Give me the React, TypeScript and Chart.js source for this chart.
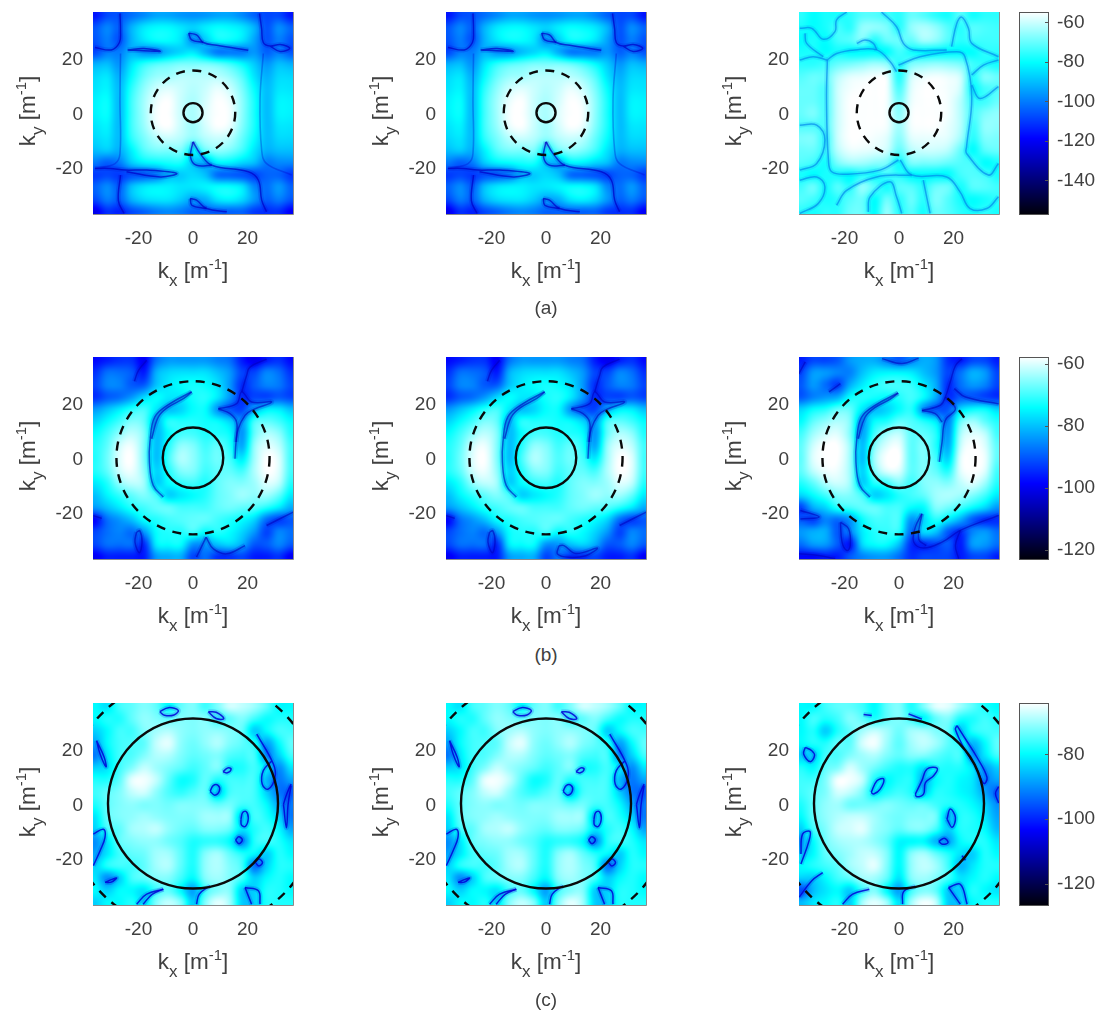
import React, { useEffect, useRef } from "react";
import { Chart, registerables } from "chart.js";

Chart.register(...registerables);

const FONT = "'Liberation Sans', Arial, sans-serif";
const INK = "#404040";

const kTicks = [-20, 0, 20];
const kSamples = [-36, -31.5, -27, -22.5, -18, -13.5, -9, -4.5, 0, 4.5, 9, 13.5, 18, 22.5, 27, 31.5, 36];
const kRowsTopDown = [36, 31.5, 27, 22.5, 18, 13.5, 9, 4.5, 0, -4.5, -9, -13.5, -18, -22.5, -27, -31.5, -36];
const patternCentreKy = 0.4;

const captions = ["(a)", "(b)", "(c)"];

const rangeA = [-157, -54.7];
const rangeB = [-122.9, -57.8];
const rangeC = [-126.4, -64.2];
const barTicksA = [-60, -80, -100, -120, -140];
const barTicksB = [-60, -80, -100, -120];
const barTicksC = [-80, -100, -120];

// field strength in dB, rows from ky=+36 to ky=-36, columns from kx=-36 to kx=+36
const gridA12 = [
  [-116,-108,-106,-102,-98,-94,-94,-96,-97,-96,-94,-94,-98,-104,-108,-108,-116],
  [-106,-99,-104,-92,-84,-81,-81,-84,-87,-83,-80,-81,-84,-92,-106,-98,-104],
  [-106,-100,-106,-92,-84,-80,-80,-84,-96,-88,-80,-80,-84,-94,-106,-100,-106],
  [-108,-100,-100,-92,-96,-96,-90,-86,-84,-92,-100,-100,-100,-96,-104,-100,-106],
  [-92,-90,-96,-84,-76,-72,-70,-68,-68,-68,-70,-74,-80,-88,-96,-90,-92],
  [-86,-84,-92,-80,-70,-65,-64,-62,-62,-62,-62,-65,-72,-84,-92,-86,-86],
  [-84,-82,-90,-76,-66,-60,-58,-60,-62,-60,-57,-60,-68,-80,-90,-84,-84],
  [-82,-80,-90,-74,-64,-57,-55,-60,-63,-59,-55,-57,-66,-78,-90,-82,-82],
  [-82,-80,-90,-74,-64,-56,-55,-60,-63,-58,-55,-56,-66,-78,-90,-82,-82],
  [-84,-82,-90,-74,-65,-57,-55,-60,-64,-59,-55,-57,-67,-78,-90,-84,-84],
  [-86,-84,-90,-76,-68,-62,-60,-62,-66,-62,-60,-62,-70,-80,-90,-86,-86],
  [-90,-88,-92,-82,-72,-68,-68,-68,-80,-70,-66,-68,-74,-84,-92,-90,-90],
  [-100,-104,-100,-88,-82,-80,-78,-78,-88,-92,-82,-82,-86,-90,-100,-98,-98],
  [-110,-108,-110,-106,-104,-100,-90,-88,-86,-90,-102,-104,-106,-108,-104,-104,-110],
  [-104,-98,-104,-90,-84,-82,-82,-84,-84,-82,-80,-80,-84,-98,-102,-96,-104],
  [-108,-100,-104,-92,-86,-84,-84,-88,-94,-92,-84,-82,-86,-96,-104,-100,-106],
  [-122,-112,-114,-108,-104,-100,-98,-100,-104,-104,-104,-104,-104,-110,-112,-112,-120],
];

const gridA3 = [
  [-76,-80,-78,-78,-76,-72,-72,-74,-76,-70,-72,-76,-78,-72,-78,-76,-76],
  [-78,-80,-78,-74,-76,-66,-66,-68,-76,-66,-63,-66,-72,-76,-72,-73,-74],
  [-80,-78,-80,-74,-72,-68,-76,-70,-70,-70,-64,-66,-72,-76,-74,-74,-74],
  [-78,-78,-80,-78,-80,-80,-80,-80,-74,-78,-80,-80,-80,-80,-80,-76,-76],
  [-76,-76,-74,-70,-68,-66,-64,-66,-76,-68,-66,-65,-66,-68,-74,-76,-78],
  [-72,-70,-70,-62,-58,-57,-56,-57,-76,-60,-57,-56,-57,-60,-76,-68,-70],
  [-70,-70,-72,-60,-56,-55,-55,-56,-72,-58,-55,-55,-56,-60,-78,-74,-72],
  [-70,-70,-72,-60,-55,-55,-55,-56,-68,-57,-55,-55,-56,-62,-74,-74,-70],
  [-70,-68,-72,-60,-55,-55,-55,-56,-66,-56,-55,-55,-56,-62,-72,-68,-66],
  [-72,-72,-72,-60,-55,-55,-55,-56,-64,-56,-55,-55,-57,-62,-74,-66,-66],
  [-68,-68,-74,-60,-55,-55,-56,-58,-66,-58,-57,-57,-58,-64,-76,-68,-68],
  [-70,-70,-74,-62,-57,-57,-58,-60,-70,-62,-60,-60,-62,-70,-80,-72,-70],
  [-72,-74,-78,-68,-64,-64,-66,-68,-78,-68,-68,-68,-70,-72,-74,-80,-78],
  [-78,-80,-78,-78,-80,-76,-78,-74,-76,-80,-80,-80,-80,-74,-72,-74,-78],
  [-74,-70,-78,-72,-76,-66,-72,-78,-72,-72,-76,-70,-70,-78,-72,-72,-74],
  [-72,-74,-78,-76,-72,-70,-80,-70,-76,-70,-76,-68,-72,-78,-80,-78,-76],
  [-76,-78,-76,-76,-70,-70,-80,-66,-76,-72,-78,-70,-72,-76,-78,-76,-78],
];

const gridB12 = [
  [-98,-96,-94,-94,-99,-88,-84,-84,-84,-84,-86,-88,-96,-100,-96,-94,-98],
  [-94,-88,-88,-90,-96,-82,-78,-77,-77,-77,-80,-84,-92,-92,-86,-88,-94],
  [-92,-86,-86,-90,-90,-80,-76,-74,-73,-74,-77,-84,-94,-90,-86,-87,-92],
  [-94,-90,-88,-84,-78,-74,-76,-76,-73,-72,-76,-84,-94,-92,-92,-90,-92],
  [-84,-80,-76,-72,-70,-76,-80,-78,-74,-74,-84,-90,-92,-82,-76,-76,-80],
  [-78,-74,-70,-66,-68,-80,-72,-72,-72,-73,-74,-78,-84,-70,-68,-70,-74],
  [-74,-70,-65,-62,-66,-80,-74,-70,-70,-72,-72,-74,-84,-68,-63,-65,-72],
  [-72,-68,-61,-59,-66,-80,-72,-65,-66,-70,-68,-72,-82,-65,-60,-62,-70],
  [-72,-67,-60,-58,-66,-80,-70,-63,-65,-69,-67,-70,-76,-64,-58,-60,-70],
  [-72,-68,-61,-59,-65,-78,-72,-66,-66,-70,-68,-68,-70,-63,-58,-60,-70],
  [-76,-72,-65,-62,-64,-78,-74,-71,-70,-72,-68,-66,-66,-64,-60,-62,-72],
  [-80,-75,-71,-68,-66,-70,-78,-76,-74,-72,-68,-66,-64,-65,-64,-68,-76],
  [-84,-80,-76,-72,-70,-68,-68,-70,-70,-70,-68,-67,-68,-69,-72,-76,-82],
  [-98,-88,-84,-80,-74,-72,-70,-69,-68,-68,-70,-72,-74,-78,-88,-92,-90],
  [-92,-88,-86,-88,-84,-74,-72,-72,-70,-74,-72,-74,-78,-84,-92,-86,-88],
  [-92,-88,-88,-88,-94,-76,-74,-74,-84,-84,-80,-78,-82,-90,-90,-86,-90],
  [-100,-96,-96,-96,-96,-84,-82,-82,-92,-88,-94,-94,-92,-96,-96,-94,-100],
];

const gridB3 = [
  [-96,-92,-92,-90,-84,-82,-82,-86,-90,-86,-82,-84,-94,-96,-92,-92,-96],
  [-92,-84,-84,-86,-86,-80,-76,-75,-75,-76,-80,-84,-92,-88,-82,-84,-92],
  [-90,-84,-88,-92,-82,-76,-72,-70,-70,-71,-76,-82,-94,-88,-84,-86,-92],
  [-90,-86,-84,-82,-74,-72,-73,-74,-72,-70,-74,-82,-94,-90,-90,-92,-94],
  [-78,-74,-72,-68,-68,-76,-80,-78,-74,-72,-84,-90,-90,-78,-74,-74,-78],
  [-74,-68,-65,-63,-66,-82,-74,-72,-68,-69,-72,-76,-86,-68,-64,-68,-72],
  [-70,-64,-61,-60,-66,-82,-70,-64,-62,-68,-68,-72,-84,-64,-60,-62,-70],
  [-68,-61,-58,-58,-64,-80,-66,-60,-59,-68,-66,-72,-82,-62,-58,-60,-68],
  [-68,-60,-58,-58,-64,-80,-64,-58,-58,-68,-66,-70,-78,-60,-58,-59,-68],
  [-68,-62,-59,-59,-64,-78,-66,-60,-60,-68,-66,-68,-72,-60,-58,-60,-70],
  [-72,-68,-63,-61,-64,-78,-72,-70,-66,-70,-66,-65,-66,-62,-60,-64,-72],
  [-78,-74,-70,-66,-66,-70,-78,-76,-72,-70,-68,-64,-63,-64,-66,-70,-76],
  [-92,-82,-78,-72,-70,-68,-68,-70,-70,-74,-74,-66,-67,-70,-74,-78,-84],
  [-90,-92,-86,-88,-84,-74,-70,-70,-70,-84,-78,-72,-76,-82,-90,-94,-94],
  [-84,-82,-82,-90,-86,-76,-72,-71,-72,-88,-78,-80,-90,-94,-86,-84,-88],
  [-88,-84,-84,-90,-96,-78,-74,-74,-80,-94,-94,-92,-90,-96,-84,-84,-88],
  [-98,-98,-96,-96,-90,-86,-84,-84,-88,-94,-92,-92,-92,-96,-92,-92,-96],
];

const gridC12 = [
  [-80,-82,-76,-74,-72,-74,-80,-74,-72,-76,-72,-67,-68,-70,-74,-80,-80],
  [-80,-78,-78,-74,-71,-72,-74,-72,-72,-72,-76,-74,-72,-76,-79,-78,-78],
  [-84,-80,-76,-76,-72,-70,-69,-71,-72,-71,-71,-72,-74,-84,-80,-76,-76],
  [-88,-80,-76,-75,-74,-68,-66,-71,-73,-71,-69,-72,-74,-78,-88,-80,-74],
  [-92,-82,-76,-75,-72,-69,-69,-72,-74,-73,-72,-75,-76,-76,-90,-84,-76],
  [-84,-82,-76,-72,-68,-70,-72,-74,-76,-74,-72,-78,-78,-76,-82,-90,-82],
  [-78,-78,-74,-66,-65,-68,-74,-79,-78,-74,-78,-76,-76,-76,-86,-92,-88],
  [-76,-74,-72,-68,-67,-71,-75,-77,-75,-74,-84,-76,-75,-76,-84,-92,-94],
  [-78,-74,-72,-71,-72,-72,-73,-72,-72,-72,-74,-73,-76,-76,-80,-88,-92],
  [-82,-74,-72,-71,-70,-71,-72,-72,-72,-70,-70,-71,-84,-76,-78,-84,-92],
  [-84,-76,-74,-70,-69,-68,-71,-73,-74,-72,-72,-74,-82,-78,-76,-80,-88],
  [-90,-82,-74,-72,-71,-71,-73,-75,-78,-77,-77,-80,-90,-78,-76,-78,-82],
  [-88,-82,-76,-74,-73,-70,-70,-74,-78,-72,-70,-74,-78,-80,-84,-78,-80],
  [-84,-78,-76,-76,-74,-70,-69,-74,-78,-71,-69,-72,-76,-92,-84,-78,-78],
  [-82,-90,-84,-76,-74,-72,-72,-76,-80,-72,-70,-72,-76,-84,-80,-78,-80],
  [-80,-84,-80,-80,-82,-76,-74,-80,-88,-76,-72,-72,-84,-84,-78,-78,-80],
  [-84,-80,-80,-78,-82,-72,-68,-72,-84,-72,-66,-70,-84,-84,-78,-78,-78],
];

const gridC3 = [
  [-80,-80,-76,-74,-74,-76,-80,-74,-72,-78,-72,-66,-66,-70,-74,-78,-80],
  [-80,-76,-78,-76,-72,-74,-78,-74,-72,-76,-80,-74,-72,-78,-78,-76,-78],
  [-80,-78,-84,-78,-74,-70,-68,-70,-73,-70,-70,-72,-74,-84,-78,-76,-76],
  [-80,-78,-78,-74,-74,-67,-65,-70,-74,-70,-68,-70,-74,-78,-86,-80,-74],
  [-84,-84,-76,-75,-72,-70,-69,-72,-74,-72,-72,-74,-76,-76,-88,-82,-76],
  [-78,-80,-74,-72,-67,-70,-73,-76,-78,-78,-82,-78,-78,-78,-82,-88,-84],
  [-76,-76,-72,-65,-65,-68,-78,-80,-78,-78,-86,-80,-78,-80,-82,-90,-88],
  [-76,-74,-72,-67,-68,-72,-80,-78,-76,-78,-84,-78,-78,-80,-82,-88,-94],
  [-78,-74,-71,-70,-73,-73,-73,-72,-73,-74,-74,-76,-78,-78,-80,-84,-90],
  [-80,-74,-71,-69,-68,-68,-70,-72,-73,-72,-72,-73,-86,-78,-78,-82,-88],
  [-84,-76,-72,-68,-67,-66,-70,-72,-74,-72,-72,-76,-84,-78,-78,-80,-86],
  [-88,-80,-73,-70,-69,-69,-71,-74,-80,-80,-80,-86,-88,-80,-78,-78,-82],
  [-84,-80,-74,-72,-70,-68,-68,-72,-80,-72,-70,-74,-78,-82,-84,-78,-80],
  [-80,-78,-76,-74,-70,-68,-66,-72,-80,-71,-68,-70,-76,-86,-82,-78,-78],
  [-84,-84,-80,-76,-74,-70,-70,-74,-82,-72,-70,-72,-76,-82,-80,-78,-80],
  [-96,-86,-82,-80,-84,-76,-72,-80,-88,-76,-72,-74,-84,-84,-78,-80,-82],
  [-86,-82,-80,-78,-84,-70,-66,-70,-82,-70,-65,-68,-84,-84,-80,-78,-78],
];

// null-contours of the field, in (kx, ky)
const contoursA12 = [
  [[-26.8,36.7],[-26.6,30],[-27,26],[-30,23.3],[-36,24.2]],
  [[-24,23.3],[-18,23.8],[-12,22.8],[-18,23],[-24,23.3]],
  [[-1.6,29.4],[1.3,28.8],[3.8,26],[8.7,25],[20.3,23.2]],
  [[-1.6,29.4],[-0.5,27],[3.8,26]],
  [[24.4,36.7],[25.2,31],[25.8,26],[28.3,24.7],[32,25.3],[35.5,23.9],[32,22.7],[28.3,24.7]],
  [[-36,-20.2],[-30.5,-20.2],[-25,-20.8],[-17,-20.8],[-6,-22],[-12,-23.3],[-24.4,-21.4]],
  [[-26.6,-22.6],[-27.4,-32],[-25.3,-36.7]],
  [[0,-10.4],[2.6,-14.7],[6.9,-19],[20.3,-21.4],[24,-24.5],[25.2,-31.8],[27,-36.1]],
  [[0,-10.4],[-0.9,-16],[1.3,-19],[6.9,-19]],
  [[-1,-31.2],[1.3,-31.8],[5,-34.9],[12.4,-36.1]],
  [[-1,-31.2],[-0.4,-33.7],[5,-34.9]],
];
const contoursA12Faint = [
  [[-26.6,22],[-26.8,5],[-26.8,-14.7],[-28.6,-18.4],[-36,-20.2]],
  [[25.8,22],[24.6,5],[25.2,-13.5],[27,-18.4],[36.2,-22.6]],
];

const contoursA3 = [
  [[-26.3,19.6],[-26.6,4.9],[-25.9,-17.1],[-24.7,-21.4],[-19.2,-22.3],[-7,-20.8],[-0.2,-17.1]],
  [[-26.3,19.6],[-22.9,22],[-16.2,23.3],[-8.2,23.3],[-3.3,19],[-0.9,15.3]],
  [[-0.2,17.7],[7.7,20.8],[21.2,22.6],[24.2,20.8],[26.7,6.1],[24.8,-12.2],[24.8,-14.7],[32.8,-22.6],[36.5,-18.4]],
  [[0.4,-17.1],[4.7,-22.6],[17.5,-23.3],[22.4,-28.8],[26.1,-34.9],[32.2,-34.9],[36.5,-30.6]],
  [[26.7,14.1],[31,17.7],[36.5,19.6]],
  [[26.7,10.4],[29.7,5.5],[36.5,9.8]],
  [[19.3,24.5],[21.2,33],[23,35.3],[25.5,31.2],[26.7,25.7],[36.5,20.8]],
  [[-6.4,37.2],[-0.9,31.8],[1.6,25.7],[5.3,23.3],[17.5,23.3]],
  [[-36.4,31.2],[-32,31.2],[-27.8,27.2],[-23.5,30],[-22.9,34.3],[-19.2,37.2]],
  [[-34.5,29.4],[-33.9,25.7],[-27.8,20.8]],
  [[-15.5,25.7],[-12.5,26.9],[-9.4,25.7],[-8.2,23.3]],
  [[-36.4,19.6],[-31.5,20.8],[-26.3,19.6]],
  [[-36.4,-4.3],[-30.2,-4.3],[-27.2,-9.8],[-30.2,-18.4],[-36.4,-20.8]],
  [[-36.4,-24.5],[-30.2,-23.3],[-27.2,-26.9],[-29.6,-33],[-36.4,-36.7]],
  [[-22.9,-33.7],[-19.2,-28.2],[-8.2,-23.3],[4.7,-22.6]],
  [[-11.3,-36.1],[-10.6,-30.6],[-3.3,-25.1],[-0.9,-30.6],[1,-36.7]],
  [[8.9,-24.5],[11.4,-36.7]],
];

const contoursB12 = [
  [[-0.5,24.4],[-8.4,20.1],[-14,15.2],[-15.8,6],[-16,-1.3],[-14.6,-9.9],[-10.9,-14.2]],
  [[-0.5,24.4],[-3.5,21.9],[-9.1,18.8],[-12.7,15.2],[-15.2,7.2]],
  [[9.3,18.2],[16,20.1],[17.9,24.4],[21.5,20.7],[28.9,20.7],[21.5,17.6],[19.1,15.8],[16.6,10.9],[15.8,6],[15.4,-0.1]],
  [[9.3,18.2],[13.6,16.4],[16,13.3],[15.8,6]],
  [[17.9,24.4],[19.7,30.5],[20.9,33.5],[27,36.4]],
  [[-21.5,28.3],[-20,32.3],[-17,36]],
  [[-20.7,-27],[-21.3,-30.7],[-19.7,-34.6],[-18.7,-30.7],[-19.5,-26.6],[-20.7,-27]],
  [[27,-24.6],[36.8,-19.7]],
  [[-36.6,-21],[-33.5,-22]],
];
const contoursB1Foot = [
  [[4.8,-28.9],[1.3,-36.2]],
  [[4.8,-28.9],[7.5,-33.2],[12.4,-35],[19.1,-32]],
];
const contoursB2Foot = [
  [[4.8,-32],[4.2,-35.1],[8.4,-36.3],[14.6,-35.7],[18.8,-32.9],[10.9,-34.9],[6.6,-32],[4.8,-32]],
];

const contoursB3 = [
  [[-6.2,36.6],[1.1,34.8],[7.2,36.8]],
  [[-36.8,31],[-34.4,35.4]],
  [[-25.7,24.4],[-21.5,27.4]],
  [[-0.3,24],[-8.2,19.8],[-13.8,15],[-15.6,6],[-15.8,-1.3],[-14.4,-9.9],[-10.7,-14.2]],
  [[-0.3,24],[-3.3,21.7],[-8.9,18.6],[-12.5,15],[-15,7.2]],
  [[8.4,17.6],[15.2,19.5],[17,22.5],[18.8,28],[20.7,34],[23.1,36.6]],
  [[20.3,25.6],[24.4,22.5],[36.6,20]],
  [[17,22.5],[20.7,18.2],[17,14],[15.8,6],[14.8,-1.3]],
  [[8.4,17.6],[13.3,16.4],[15.8,13.3]],
  [[-36.2,-19.1],[-29.3,-21.5],[-36.2,-22.2]],
  [[-21.5,-23.4],[-20.9,-30.7],[-19.1,-33.8],[-17.9,-31.9],[-18.5,-25.8],[-21.5,-23.4]],
  [[-36.8,-35],[-29.5,-35.6],[-23.4,-36.8]],
  [[8.4,-20.3],[6,-25.2],[5.4,-30.7],[9,-32.9],[15.8,-30.7],[22.5,-26.4],[36.6,-20.9]],
  [[8.4,-20.3],[7.2,-29.5],[10,-32]],
  [[22.5,-26.4],[20.7,-31.9],[21.9,-36.8]],
];

const contoursC12 = [
  [[-12.2,34],[-9,35.5],[-5.4,34.5],[-7,32.8],[-10.5,32.7],[-12.2,34]],
  [[5.6,34],[8.5,33.8],[11.3,31.5],[8.5,31.5],[5.6,34]],
  [[-35.4,23.4],[-32.6,17.3],[-31.9,13.8],[-34.1,18.5],[-35.4,23.4]],
  [[23.4,25.8],[29.5,14.8],[30.1,9.9],[27.6,5.6],[25.4,7.5],[25.8,12.4],[29,16]],
  [[11,12],[12.8,13.4],[14,13],[12.6,11.6],[11,12]],
  [[6.3,4.8],[7.4,6.9],[9.2,7],[9.7,5],[8,3.4],[6.3,4.8]],
  [[33.2,0],[34.3,-8.6],[34.9,0],[36,6.9]],
  [[36,7.5],[34.4,3.8],[33.2,0]],
  [[17.6,-5.4],[18.2,-3],[19.5,-2.6],[20.3,-5],[19.3,-8],[17.8,-7.6],[17.6,-5.4]],
  [[15.6,-13.1],[16.8,-11.9],[18.1,-13],[16.9,-14.4],[15.6,-13.1]],
  [[22.9,-21.3],[24.2,-20],[25.5,-21.3],[24.2,-22.6],[22.9,-21.3]],
  [[-36.6,-10.9],[-32.9,-9.1],[-32.3,-12.1],[-34.1,-17],[-36.6,-22.5]],
  [[-32.3,-28.6],[-30,-27.6],[-28,-27],[-30,-28.5],[-32.3,-28.6]],
  [[-20.7,-36.6],[-17,-32.9],[-10.9,-31.1]],
  [[-18.3,-36.6],[-15,-33],[-10.9,-31.1]],
  [[1.3,-36.6],[2.3,-32.9],[6.2,-29.9]],
  [[19.1,-30.5],[24,-31.7],[24.6,-36.6]],
  [[19.1,-30.5],[21.5,-36.6]],
];

const contoursC3 = [
  [[-13,33],[-10,32.6]],
  [[3.5,33.2],[8.4,31.3]],
  [[-34.4,20.9],[-32,19.7],[-31,17.9],[-32.6,15.7],[-35,18.5],[-34.4,20.9]],
  [[21.3,28.9],[24.4,24],[28.6,17.3],[32.3,9.9],[31.1,7.7],[28,14.2],[24.4,19.7],[20.7,27.5],[21.3,28.9]],
  [[6,3.8],[8.4,8.7],[10.3,13],[14,13.3],[12.7,10.5],[9.7,8],[9,3.8],[6.5,2.8],[6,3.8]],
  [[-10.2,4.4],[-8.1,8.7],[-5.6,9.3],[-6.9,5.6],[-9.3,3.8],[-10.2,4.4]],
  [[36.6,6.5],[35.4,4],[36.6,0.5]],
  [[17.6,-5.4],[18.8,-1.7],[20.7,-4.8],[19.5,-8.4],[17.6,-5.4]],
  [[14.6,-13.6],[16.6,-12.4],[18,-14],[16,-14.6],[14.6,-13.6]],
  [[-36,-18.2],[-35.4,-10.9],[-32.7,-9.9],[-33,-13.3],[-36,-21.9]],
  [[-20.7,-36.6],[-17,-32.9],[-10.9,-31.1]],
  [[1.3,-36.6],[1.7,-32],[6,-30]],
  [[18.2,-30.5],[22.5,-29.3],[25,-36.6]],
  [[18.2,-30.5],[22.5,-36.6]],
  [[-36.6,-34],[-32,-28],[-28,-25]],
  [[23.1,-18.8],[24.4,-20.5]],
];

// [centre kx, centre ky, radius, dashed]
const circlesA = [[0, 0.66, 3.5, 0], [0, 0.66, 15.5, 1]];
const circlesB = [[0, 0.62, 11.1, 0], [0, 0.62, 28.1, 1]];
const circlesC = [[0, 0.73, 31.2, 0], [0, 0.73, 47, 1]];

const noLines: number[][][] = [];

const panels = [
  { left: 93, top: 12, grid: gridA12, range: rangeA, contours: contoursA12, faint: contoursA12Faint, circles: circlesA, ink: "0,0,200", core: 0.7 },
  { left: 446, top: 12, grid: gridA12, range: rangeA, contours: contoursA12, faint: contoursA12Faint, circles: circlesA, ink: "0,0,200", core: 0.7 },
  { left: 799, top: 12, grid: gridA3, range: rangeA, contours: contoursA3, faint: noLines, circles: circlesA, ink: "0,130,235", core: 0.65 },
  { left: 93, top: 357, grid: gridB12, range: rangeB, contours: [...contoursB12, ...contoursB1Foot], faint: noLines, circles: circlesB, ink: "0,0,190", core: 0.58 },
  { left: 446, top: 357, grid: gridB12, range: rangeB, contours: [...contoursB12, ...contoursB2Foot], faint: noLines, circles: circlesB, ink: "0,0,190", core: 0.58 },
  { left: 799, top: 357, grid: gridB3, range: rangeB, contours: contoursB3, faint: noLines, circles: circlesB, ink: "0,0,190", core: 0.58 },
  { left: 93, top: 703, grid: gridC12, range: rangeC, contours: contoursC12, faint: noLines, circles: circlesC, ink: "0,0,215", core: 0.85 },
  { left: 446, top: 703, grid: gridC12, range: rangeC, contours: contoursC12, faint: noLines, circles: circlesC, ink: "0,0,215", core: 0.85 },
  { left: 799, top: 703, grid: gridC3, range: rangeC, contours: contoursC3, faint: noLines, circles: circlesC, ink: "0,0,215", core: 0.85 },
];

const bars = [
  { top: 12, range: rangeA, ticks: barTicksA },
  { top: 357, range: rangeB, ticks: barTicksB },
  { top: 703, range: rangeC, ticks: barTicksC },
];

// blue-hot colormap
function shade(f: number): [number, number, number] {
  const t = Math.min(1, Math.max(0, f));
  const b = t < 0.375 ? 0.04 + (0.96 * t) / 0.375 : 1;
  const g = t < 0.375 ? 0 : t < 0.75 ? (t - 0.375) / 0.375 : 1;
  const r = t < 0.75 ? 0 : (t - 0.75) / 0.25;
  return [Math.round(r * 255), Math.round(g * 255), Math.round(b * 255)];
}

function cubic(p0: number, p1: number, p2: number, p3: number, t: number) {
  return 0.5 * (2 * p1 + (p2 - p0) * t + (2 * p0 - 5 * p1 + 4 * p2 - p3) * t * t + (3 * p1 - p0 - 3 * p2 + p3) * t * t * t);
}

function sample(grid: number[][], kx: number, ky: number) {
  const n = kSamples.length;
  const cx = Math.min(n - 1.001, Math.max(0, (kx + 36) / 4.5));
  const cy = Math.min(n - 1.001, Math.max(0, (36 - ky) / 4.5));
  const ix = Math.floor(cx);
  const iy = Math.floor(cy);
  const at = (r: number, c: number) => grid[Math.min(n - 1, Math.max(0, r))][Math.min(n - 1, Math.max(0, c))];
  const rows = [-1, 0, 1, 2].map((d) => cubic(at(iy + d, ix - 1), at(iy + d, ix), at(iy + d, ix + 1), at(iy + d, ix + 2), cx - ix));
  return cubic(rows[0], rows[1], rows[2], rows[3], cy - iy);
}

const fieldPlugin = {
  id: "field",
  beforeDatasetsDraw(chart: any, _a: any, opts: any) {
    const { ctx, chartArea: a, scales } = chart;
    const w = Math.round(a.right - a.left);
    const h = Math.round(a.bottom - a.top);
    const off = document.createElement("canvas");
    off.width = w;
    off.height = h;
    const o = off.getContext("2d")!;
    const img = o.createImageData(w, h);
    const [lo, hi] = opts.range;
    for (let py = 0; py < h; py++) {
      const ky = scales.y.getValueForPixel(a.top + py + 0.5) - patternCentreKy;
      for (let px = 0; px < w; px++) {
        const kx = scales.x.getValueForPixel(a.left + px + 0.5);
        const [r, g, b] = shade((sample(opts.grid, kx, ky) - lo) / (hi - lo));
        const i = (py * w + px) * 4;
        img.data[i] = r;
        img.data[i + 1] = g;
        img.data[i + 2] = b;
        img.data[i + 3] = 255;
      }
    }
    o.putImageData(img, 0, 0);
    ctx.drawImage(off, a.left, a.top);
  },
};

const overlayPlugin = {
  id: "overlay",
  afterDatasetsDraw(chart: any, _a: any, opts: any) {
    const { ctx, chartArea: a, scales } = chart;
    ctx.save();
    ctx.beginPath();
    ctx.rect(a.left, a.top, a.right - a.left, a.bottom - a.top);
    ctx.clip();
    ctx.strokeStyle = "#0a0a0a";
    ctx.lineWidth = 2.4;
    for (const [cx, cy, r, dashed] of opts.circles) {
      const px = scales.x.getPixelForValue(cx);
      const py = scales.y.getPixelForValue(cy);
      const pr = Math.abs(scales.x.getPixelForValue(cx + r) - px);
      ctx.setLineDash(dashed ? [9, 7.5] : []);
      ctx.beginPath();
      ctx.arc(px, py, pr, 0, Math.PI * 2);
      ctx.stroke();
    }
    ctx.restore();
    ctx.save();
    ctx.strokeStyle = "rgba(110,110,110,0.8)";
    ctx.lineWidth = 1;
    ctx.beginPath();
    ctx.moveTo(a.left, a.bottom + 0.5);
    ctx.lineTo(a.right + 0.5, a.bottom + 0.5);
    ctx.lineTo(a.right + 0.5, a.top);
    ctx.stroke();
    ctx.restore();
    const seg = (letter: string) => [
      { t: "k", s: 22.5, d: 0 },
      { t: letter, s: 17, d: 8 },
      { t: " [m", s: 22.5, d: 0 },
      { t: "-1", s: 15, d: -9 },
      { t: "]", s: 22.5, d: 0 },
    ];
    const drawLabel = (letter: string, x: number, y: number, rot: number) => {
      ctx.save();
      ctx.translate(x, y);
      ctx.rotate(rot);
      ctx.fillStyle = INK;
      ctx.textAlign = "left";
      ctx.textBaseline = "alphabetic";
      const parts = seg(letter);
      let total = 0;
      for (const p of parts) {
        ctx.font = `${p.s}px ${FONT}`;
        total += ctx.measureText(p.t).width;
      }
      let at = -total / 2;
      for (const p of parts) {
        ctx.font = `${p.s}px ${FONT}`;
        ctx.fillText(p.t, at, p.d);
        at += ctx.measureText(p.t).width;
      }
      ctx.restore();
    };
    drawLabel("x", (a.left + a.right) / 2, a.bottom + 64, 0);
    drawLabel("y", a.left - 58, (a.top + a.bottom) / 2 - 2, -Math.PI / 2);
  },
};

const noPadding = (s: any) => {
  s.paddingTop = 0;
  s.paddingBottom = 0;
  s.paddingLeft = 0;
  s.paddingRight = 0;
};

function Panel({ p }: { p: (typeof panels)[number] }) {
  const ref = useRef<HTMLCanvasElement>(null);
  useEffect(() => {
    const cells = kRowsTopDown.flatMap((ky, r) => kSamples.map((kx, c) => ({ x: kx, y: ky + patternCentreKy, v: p.grid[r][c] })));
    const lineData = (line: number[][]) => line.map(([x, y]) => ({ x, y: y + patternCentreKy }));
    const chart = new Chart(ref.current!, {
      type: "scatter",
      data: {
        datasets: [
          { label: "field", data: cells, pointRadius: 0, showLine: false },
          ...p.faint.map((line: number[][], i: number) => ({
            label: `faint contour ${i + 1}`,
            data: lineData(line),
            showLine: true,
            pointRadius: 0,
            borderColor: `rgba(${p.ink},0.3)`,
            borderWidth: 1.6,
            tension: 0.4,
          })),
          ...p.contours.flatMap((line: number[][], i: number) => {
            const data = lineData(line);
            return [
              { label: `contour ${i + 1} halo`, data, showLine: true, pointRadius: 0, borderColor: `rgba(${p.ink},0.16)`, borderWidth: 5, tension: 0.4 },
              { label: `contour ${i + 1}`, data, showLine: true, pointRadius: 0, borderColor: `rgba(${p.ink},${p.core})`, borderWidth: 1.5, tension: 0.4 },
            ];
          }),
        ],
      },
      options: {
        animation: false,
        responsive: false,
        events: [],
        layout: { padding: { left: 0, top: 12, right: 12, bottom: 0 } },
        plugins: {
          legend: { display: false },
          tooltip: { enabled: false },
          field: { grid: p.grid, range: p.range },
          overlay: { circles: p.circles },
        } as any,
        scales: {
          x: {
            type: "linear",
            min: -36.7,
            max: 36.7,
            grid: { display: false, drawTicks: false },
            border: { display: false },
            afterBuildTicks: (s: any) => { s.ticks = kTicks.map((value) => ({ value })); },
            afterFit: (s: any) => { s.height = 85; noPadding(s); },
            ticks: { font: { family: FONT, size: 19 }, color: INK, padding: 13, maxRotation: 0, callback: (v: any) => String(v) },
          },
          y: {
            type: "linear",
            min: -36.5,
            max: 37.6,
            grid: { display: false, drawTicks: false },
            border: { display: false },
            afterBuildTicks: (s: any) => { s.ticks = kTicks.map((value) => ({ value })); },
            afterFit: (s: any) => { s.width = 90; noPadding(s); },
            ticks: { font: { family: FONT, size: 19 }, color: INK, padding: 10, callback: (v: any) => String(v) },
          },
        },
      },
      plugins: [fieldPlugin, overlayPlugin],
    } as any);
    return () => chart.destroy();
  }, [p]);
  return (
    <canvas
      ref={ref}
      width={302}
      height={299}
      style={{ position: "absolute", left: p.left - 90, top: p.top - 12, width: 302, height: 299 }}
    />
  );
}

const barPlugin = {
  id: "bar",
  beforeDatasetsDraw(chart: any) {
    const { ctx, chartArea: a, scales } = chart;
    const y = scales.y;
    const top = Math.round(a.top);
    const h = Math.round(a.bottom - a.top);
    const left = Math.round(a.left);
    const w = Math.round(a.right - a.left);
    for (let i = 0; i < h; i++) {
      const v = y.getValueForPixel(top + i + 0.5);
      const [r, g, b] = shade((v - y.min) / (y.max - y.min));
      ctx.fillStyle = `rgb(${r},${g},${b})`;
      ctx.fillRect(left, top + i, w, 1);
    }
    ctx.strokeStyle = "#555";
    ctx.lineWidth = 1;
    ctx.strokeRect(left + 0.5, top + 0.5, w, h);
    ctx.beginPath();
    for (const t of y.ticks) {
      const py = Math.round(y.getPixelForValue(t.value)) + 0.5;
      ctx.moveTo(left + w - 3, py);
      ctx.lineTo(left + w, py);
    }
    ctx.stroke();
  },
};

function ColorBar({ b }: { b: (typeof bars)[number] }) {
  const ref = useRef<HTMLCanvasElement>(null);
  useEffect(() => {
    const chart = new Chart(ref.current!, {
      type: "scatter",
      data: { datasets: [{ label: "scale", data: [], pointRadius: 0 }] },
      options: {
        animation: false,
        responsive: false,
        events: [],
        layout: { padding: { left: 19, top: 12, right: 0, bottom: 12 } },
        plugins: { legend: { display: false }, tooltip: { enabled: false } },
        scales: {
          x: { type: "linear", display: false, min: 0, max: 1 },
          y: {
            type: "linear",
            position: "right",
            min: b.range[0],
            max: b.range[1],
            grid: { display: false, drawTicks: false },
            border: { display: false },
            afterBuildTicks: (s: any) => { s.ticks = b.ticks.map((value) => ({ value })); },
            afterFit: (s: any) => { s.width = 50; noPadding(s); },
            ticks: { font: { family: FONT, size: 19 }, color: INK, padding: 9, callback: (v: any) => String(v) },
          },
        },
      },
      plugins: [barPlugin],
    } as any);
    return () => chart.destroy();
  }, [b]);
  return (
    <canvas
      ref={ref}
      width={98}
      height={226}
      style={{ position: "absolute", left: 1000, top: b.top - 12, width: 98, height: 226 }}
    />
  );
}

const captionTops = [297, 644, 989];

export default function App() {
  return (
    <div style={{ position: "absolute", left: 0, top: 0, width: 1098, height: 1015, overflow: "hidden", background: "#fff", filter: "blur(0.45px)" }}>
      {panels.map((p, i) => <Panel key={i} p={p} />)}
      {bars.map((b, i) => <ColorBar key={i} b={b} />)}
      {captions.map((c, i) => (
        <div
          key={c}
          style={{ position: "absolute", left: 446, top: captionTops[i], width: 200, textAlign: "center", font: `19px/22px ${FONT}`, color: INK }}
        >
          {c}
        </div>
      ))}
    </div>
  );
}
